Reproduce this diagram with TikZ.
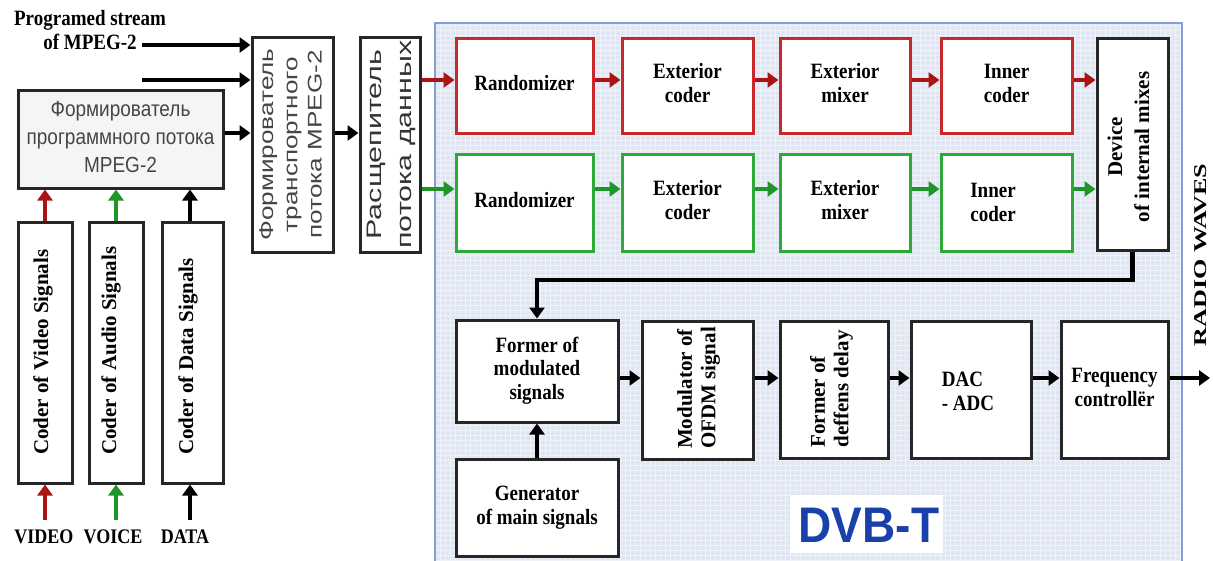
\documentclass[tikz,border=0pt]{standalone}
\usepackage{fontspec}
\setmainfont{Liberation Serif}
\newfontfamily\rusf{Liberation Sans}
\usetikzlibrary{arrows.meta}
\definecolor{bgblue}{RGB}{225,230,243}
\definecolor{edgeblue}{RGB}{130,160,215}
\definecolor{rbox}{RGB}{200,40,42}
\definecolor{rarr}{RGB}{170,20,20}
\definecolor{gbox}{RGB}{46,168,54}
\definecolor{garr}{RGB}{30,150,40}
\definecolor{dvbcol}{RGB}{25,65,170}
\definecolor{rusgrey}{RGB}{70,70,70}
\definecolor{pfill}{RGB}{245,245,245}
\newcommand{\tx}[1]{\scalebox{1}[1.15]{\begin{tabular}{@{}c@{}}#1\end{tabular}}}
\newcommand{\txl}[1]{\scalebox{1}[1.15]{\begin{tabular}{@{}l@{}}#1\end{tabular}}}
\begin{document}
\begin{tikzpicture}[x=1pt,y=-1pt,
  blk/.style={draw=black!85, line width=3pt, fill=white, inner sep=0pt, align=center, font=\fontsize{19}{20.5}\selectfont\bfseries},
  rbx/.style={blk, draw=rbox},
  gbx/.style={blk, draw=gbox},
  en/.style={font=\fontsize{19}{20.5}\selectfont\bfseries, align=center, inner sep=0pt},
  rot/.style={rotate=90, font=\fontsize{21}{23.5}\selectfont\bfseries, inner sep=0pt},
  arr/.style={line width=4.5pt, line join=miter, -{Triangle[length=11pt,width=15pt]}},
  redarrow/.style={arr, draw=rarr, -{Triangle[length=11pt,width=15pt,fill=rarr]}},
  greenarrow/.style={arr, draw=garr, -{Triangle[length=11pt,width=15pt,fill=garr]}}
]
\useasboundingbox (0,0) rectangle (1213,560);
\fill[white] (0,0) rectangle (1213,560);
% DVB-T region
\fill[bgblue] (435,23) rectangle (1182,570);
\draw[white, line width=0.6pt, opacity=0.5, step=5pt] (435,23) grid (1182,570);
\draw[edgeblue, line width=1.5pt] (435,570) -- (435,23) -- (1182,23) -- (1182,570);

% left part
\node[en] (pst) at (90,33) {\tx{Programed stream\\of MPEG-2}};
\node[blk, fill=pfill, minimum width=205pt, minimum height=98pt] (pbox) at (120.5,139)
  {\rusf\mdseries\color{rusgrey}\fontsize{19}{24.5}\selectfont\scalebox{1}[1.15]{\begin{tabular}{@{}c@{}}Формирователь\\программного потока\\MPEG-2\end{tabular}}};
\node[blk, minimum width=54pt, minimum height=261pt] (cv) at (45,352.5) {};
\node[blk, minimum width=54pt, minimum height=261pt] (ca) at (116,352.5) {};
\node[blk, minimum width=61pt, minimum height=261pt] (cd) at (192.5,352.5) {};
\node[rot, anchor=west] (cvt) at (43,455) {Coder of Video Signals};
\node[rot, anchor=west] (cat) at (111,455) {Coder of Audio Signals};
\node[rot, anchor=west] (cdt) at (188,455) {Coder of Data Signals};
\node[en, font=\fontsize{18}{20}\selectfont\bfseries] (lv) at (44,539) {\tx{VIDEO}};
\node[en, font=\fontsize{18}{20}\selectfont\bfseries] (la) at (113,539) {\tx{VOICE}};
\node[en, font=\fontsize{18}{20}\selectfont\bfseries] (ld) at (185,539) {\tx{DATA}};
\coordinate (vin) at (45,520);
\coordinate (ain) at (116,520);
\coordinate (din) at (190,520);
\draw[redarrow] (vin) -- (vin |- cv.south);
\draw[greenarrow] (ain) -- (ain |- ca.south);
\draw[arr] (din) -- (din |- cd.south);
\draw[redarrow] (cv.north) -- (cv.north |- pbox.south);
\draw[greenarrow] (ca.north) -- (ca.north |- pbox.south);
\draw[arr] (din |- cd.north) -- (din |- pbox.south);

\node[blk, minimum width=81pt, minimum height=215pt] (tr) at (292.5,144.5) {};
\node[rotate=90, inner sep=0pt, text=rusgrey, font=\rusf\fontsize{18}{22}\selectfont] (trt) at (tr)
  {\scalebox{1.45}[1.1]{\begin{tabular}{@{}c@{}}Формирователь\\транспортного\\потока MPEG-2\end{tabular}}};
\node[blk, minimum width=60pt, minimum height=215pt] (sp) at (390,144.5) {};
\node[rotate=90, inner sep=0pt, text=black!80, font=\rusf\fontsize{21}{30}\selectfont] (spt) at (sp)
  {\scalebox{1.45}[1]{\begin{tabular}{@{}c@{}}Расщепитель\\потока данных\end{tabular}}};
\coordinate (in1) at (142,45);
\coordinate (in2) at (142,80);
\coordinate (p3) at (0,133);
\draw[arr] (in1) -- (in1 -| tr.west);
\draw[arr] (in2) -- (in2 -| tr.west);
\draw[arr] (pbox.east |- p3) -- (tr.west |- p3);
\draw[arr] (tr.east |- p3) -- (sp.west |- p3);

% red row
\node[rbx, minimum width=137pt, minimum height=95pt] (r1) at (524.5,85.5) {\tx{Randomizer}};
\node[rbx, minimum width=131pt, minimum height=95pt] (r2) at (687.5,85.5) {\tx{Exterior\\coder}};
\node[rbx, minimum width=130pt, minimum height=95pt] (r3) at (845,85.5) {\tx{Exterior\\mixer}};
\node[rbx, minimum width=131pt, minimum height=95pt] (r4) at (1006.5,85.5) {\tx{Inner\\coder}};
% green row
\node[gbx, minimum width=137pt, minimum height=97pt] (g1) at (524.5,202.5) {\tx{Randomizer}};
\node[gbx, minimum width=131pt, minimum height=97pt] (g2) at (687.5,202.5) {\tx{Exterior\\coder}};
\node[gbx, minimum width=130pt, minimum height=97pt] (g3) at (845,202.5) {\tx{Exterior\\mixer}};
\node[gbx, minimum width=131pt, minimum height=97pt] (g4) at (1006.5,202.5) {};
\node[en] (g4t) at (993,205) {\tx{Inner\\coder}};
% device
\node[blk, minimum width=71pt, minimum height=212pt] (dv) at (1132.5,144) {};
\node[rot, align=center, font=\fontsize{21}{27}\selectfont\bfseries] (dvt) at (1128.5,147) {Device\\of internal mixes};

\coordinate (ry) at (0,80);
\coordinate (gy) at (0,189);
\draw[redarrow] (sp.east |- ry) -- (r1.west |- ry);
\draw[redarrow] (r1.east |- ry) -- (r2.west |- ry);
\draw[redarrow] (r2.east |- ry) -- (r3.west |- ry);
\draw[redarrow] (r3.east |- ry) -- (r4.west |- ry);
\draw[redarrow] (r4.east |- ry) -- (dv.west |- ry);
\draw[greenarrow] (sp.east |- gy) -- (g1.west |- gy);
\draw[greenarrow] (g1.east |- gy) -- (g2.west |- gy);
\draw[greenarrow] (g2.east |- gy) -- (g3.west |- gy);
\draw[greenarrow] (g3.east |- gy) -- (g4.west |- gy);
\draw[greenarrow] (g4.east |- gy) -- (dv.west |- gy);

% bottom row
\node[blk, minimum width=162pt, minimum height=102pt] (fm) at (537,371) {\tx{Former of\\modulated\\signals}};
\node[blk, minimum width=111pt, minimum height=138pt] (md) at (697.5,390) {};
\node[rot, align=left] (mdt) at (698.5,388) {Modulator of\\OFDM signal};
\node[blk, minimum width=108pt, minimum height=137pt] (fd) at (834,389.5) {};
\node[rot, align=left] (fdt) at (831.5,389) {Former of\\deffens delay};
\node[blk, minimum width=120pt, minimum height=137pt] (dac) at (971,389.5) {};
\node[en] (dact) at (968,394) {\txl{DAC\\- ADC}};
\node[blk, minimum width=107pt, minimum height=137pt] (fc) at (1114.5,389.5) {\tx{Frequency\\controllër}};
\node[blk, minimum width=162pt, minimum height=97pt] (gn) at (537,507.5) {\tx{Generator\\of main signals}};

\coordinate (bend) at (0,280);
\coordinate (by) at (0,378);
\coordinate (out) at (1210,378);
\draw[arr] (dv.south) -- (dv.south |- bend) -- (fm.north |- bend) -- (fm.north);
\draw[arr] (gn.north) -- (fm.south);
\draw[arr] (fm.east |- by) -- (md.west |- by);
\draw[arr] (md.east |- by) -- (fd.west |- by);
\draw[arr] (fd.east |- by) -- (dac.west |- by);
\draw[arr] (dac.east |- by) -- (fc.west |- by);
\draw[arr] (fc.east |- by) -- (out);

\node[rotate=90, inner sep=0pt, font=\fontsize{18}{20}\selectfont\bfseries] (rw) at (1201,255) {\scalebox{1.45}[1]{RADIO WAVES}};

% DVB-T label
\node[fill=white, minimum width=153pt, minimum height=58pt, inner sep=0pt] (dvbbox) at (866.5,524) {};
\node[inner sep=0pt, text=dvbcol, font=\rusf\fontsize{50}{50}\selectfont\bfseries] (dvbt) at (869,525) {\scalebox{0.92}[1]{DVB-T}};
\end{tikzpicture}
\end{document}
